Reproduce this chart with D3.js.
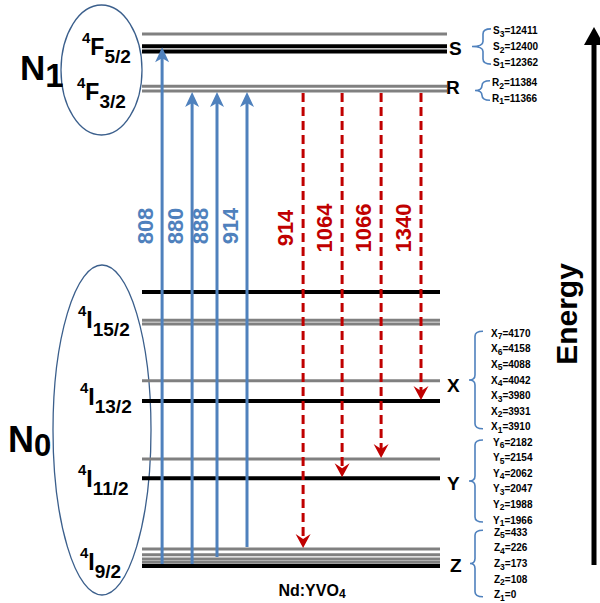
<!DOCTYPE html>
<html>
<head>
<meta charset="utf-8">
<script src="https://cdn.jsdelivr.net/npm/d3@7"></script>
<style>
  html, body { margin: 0; padding: 0; background: #fff; }
  svg { display: block; font-family: "Liberation Sans", Arial, sans-serif; }
</style>
</head>
<body>
<svg id="chart" width="600" height="603"></svg>
<script>
// ---------------- DATA ----------------
// drawn sub-level lines (schematic height, 0 = ground line, 100 = top line)
const lineIds     = ["Z1","Z2","Z3","Z4","Z5","Y1","Y6","X1","X7","W1","W2","W3","R1","R2","S1","S2","S3"];
const lineManifold= ["I9","I9","I9","I9","I9","I11","I11","I13","I13","I15","I15","I15","F3","F3","F5","F5","F5"];
const lineHeights = [0, 0.7, 1.3, 2.1, 3.2, 16.5, 20.1, 31.0, 34.8, 45.5, 46.2, 51.5, 89.3, 90.2, 96.7, 97.7, 100];
const lineKinds   = ["main","sub","sub","sub","sub","main","sub","main","sub","sub","sub","main","sub","sub","main","main","sub"];

// Stark sub-level energies (cm^-1)
const groupNames  = ["S","R","X","Y","Z"];
const sValues = [12362, 12400, 12411];
const rValues = [11366, 11384];
const xValues = [3910, 3931, 3980, 4042, 4088, 4158, 4170];
const yValues = [1966, 1988, 2047, 2062, 2154, 2182];
const zValues = [0, 108, 173, 226, 433];

// pump transitions (absorption, nm)
const pumpLabels = ["808","880","888","914"];
const pumpFrom   = ["Z1","Z1","Z3","Z5"];
const pumpTo     = ["S2","R1","R1","R1"];
const pumpSlot   = [0.67, 1.67, 2.5, 3.5];

// emission transitions (nm)
const emitLabels = ["914","1064","1066","1340"];
const emitFrom   = ["R1","R1","R1","R1"];
const emitTo     = ["Z5","Y1","Y6","X1"];
const emitSlot   = [5.37, 6.67, 7.97, 9.3];

// term symbols
const termSup  = ["4","4","4","4","4","4"];
const termMain = ["F","F","I","I","I","I"];
const termSub  = ["5/2","3/2","15/2","13/2","11/2","9/2"];

// ---------------- LAYOUT ----------------
const svg = d3.select("#chart");
const y = d3.scaleLinear().domain([0, 100]).range([566, 34]);
const x = d3.scaleLinear().domain([0, 10]).range([142, 442]);
const lineY = {};
lineIds.forEach((id, i) => lineY[id] = y(lineHeights[i]));

const BLUE = "#4f81bd", RED = "#c00000", GRAY = "#808080", OUTLINE = "#3b5f8c";

// ellipses
svg.append("ellipse").attr("cx", 101.5).attr("cy", 70).attr("rx", 40.5).attr("ry", 65)
  .attr("fill", "none").attr("stroke", OUTLINE).attr("stroke-width", 1.3);
svg.append("ellipse").attr("cx", 102).attr("cy", 430).attr("rx", 49).attr("ry", 165)
  .attr("fill", "none").attr("stroke", OUTLINE).attr("stroke-width", 1.3);

// level lines
const lines = lineIds.map((id, i) => ({id, m: lineManifold[i], kind: lineKinds[i], yy: lineY[id]}));
svg.append("g").selectAll("line").data(lines).join("line")
  .attr("x1", x(0))
  .attr("x2", d => (d.m === "F3" || d.m === "F5") ? 447 : 440)
  .attr("y1", d => d.yy).attr("y2", d => d.yy)
  .attr("stroke", d => d.kind === "main" ? "#000" : GRAY)
  .attr("stroke-width", d => d.kind === "main" ? 4 : 3);

// pump arrows
const pumps = pumpLabels.map((l, i) => ({l, x: x(pumpSlot[i]), y0: lineY[pumpFrom[i]] - 2, y1: lineY[pumpTo[i]] + 1}));
const pg = svg.append("g");
pg.selectAll("line").data(pumps).join("line")
  .attr("x1", d => d.x).attr("x2", d => d.x)
  .attr("y1", d => d.y0).attr("y2", d => d.y1 + 10)
  .attr("stroke", BLUE).attr("stroke-width", 3);
pg.selectAll("path").data(pumps).join("path")
  .attr("d", d => `M${d.x},${d.y1} L${d.x + 7},${d.y1 + 15} L${d.x},${d.y1 + 11} L${d.x - 7},${d.y1 + 15} Z`)
  .attr("fill", BLUE);
pg.selectAll("text").data(pumps).join("text")
  .attr("transform", d => `translate(${d.x - 17},226) rotate(-90)`)
  .attr("text-anchor", "middle").attr("dy", "0.36em")
  .attr("font-size", 22).attr("font-weight", "bold").attr("fill", BLUE)
  .text(d => d.l);

// emission arrows
const emits = emitLabels.map((l, i) => ({l, x: x(emitSlot[i]), y0: lineY[emitFrom[i]] + 2, y1: lineY[emitTo[i]] - 1}));
const eg = svg.append("g");
eg.selectAll("line").data(emits).join("line")
  .attr("x1", d => d.x).attr("x2", d => d.x)
  .attr("y1", d => d.y0).attr("y2", d => d.y1 - 9)
  .attr("stroke", RED).attr("stroke-width", 3).attr("stroke-dasharray", "9,5");
eg.selectAll("path").data(emits).join("path")
  .attr("d", d => `M${d.x},${d.y1} L${d.x + 7.5},${d.y1 - 14} L${d.x},${d.y1 - 9} L${d.x - 7.5},${d.y1 - 14} Z`)
  .attr("fill", RED);
eg.selectAll("text").data(emits).join("text")
  .attr("transform", d => `translate(${d.x - 18},228) rotate(-90)`)
  .attr("text-anchor", "middle").attr("dy", "0.36em")
  .attr("font-size", 22).attr("font-weight", "bold").attr("fill", RED)
  .text(d => d.l);

// group letters
const letterPos = {S: [449, 55], R: [446, 94], X: [447, 392], Y: [447, 490], Z: [450, 572]};
svg.append("g").selectAll("text").data(groupNames).join("text")
  .attr("x", d => letterPos[d][0]).attr("y", d => letterPos[d][1])
  .attr("font-size", 19).attr("font-weight", "bold").text(d => d);

// braces + sublevel labels
const groupValues = {S: sValues, R: rValues, X: xValues, Y: yValues, Z: zValues};
const braceLayout = {
  S: {c: 46.5, xv: 483, xt: 472, xl: 493},
  R: {c: 90.5, xv: 482, xt: 475, xl: 492},
  X: {c: 380,  xv: 475, xt: 469, xl: 491},
  Y: {c: 481,  xv: 475, xt: 469, xl: 493},
  Z: {c: 563.5,xv: 475, xt: 470, xl: 494}
};
const STEP = 15.6;
groupNames.forEach(g => {
  const L = braceLayout[g], vals = groupValues[g], n = vals.length;
  const half = (n - 1) / 2 * STEP;
  const top = L.c - half - 2, bot = L.c + half + 2, xv = L.xv, xt = L.xt, c = L.c;
  const p = d3.path();
  p.moveTo(xv + 8, top);
  p.quadraticCurveTo(xv, top, xv, top + 5);
  p.lineTo(xv, c - 5);
  p.quadraticCurveTo(xv, c, xt, c);
  p.quadraticCurveTo(xv, c, xv, c + 5);
  p.lineTo(xv, bot - 5);
  p.quadraticCurveTo(xv, bot, xv + 8, bot);
  svg.append("path").attr("d", p.toString()).attr("fill", "none")
    .attr("stroke", BLUE).attr("stroke-width", 1.6);
  const rows = vals.map((v, i) => ({name: g, idx: i + 1, v, yy: L.c + half - i * STEP}));
  const t = svg.append("g").selectAll("text").data(rows).join("text")
    .attr("x", L.xl).attr("y", d => d.yy + 3.5)
    .attr("font-size", 10).attr("font-weight", "bold");
  t.append("tspan").text(d => d.name);
  t.append("tspan").attr("font-size", 8.5).attr("dy", 2.5).text(d => d.idx);
  t.append("tspan").attr("dy", -2.5).text(d => "=" + d.v);
});

// term symbols
const termPos = [[82, 55], [77, 100], [78, 328], [80, 405], [78, 487], [80, 570]];
termMain.forEach((m, i) => {
  const t = svg.append("text").attr("x", termPos[i][0]).attr("y", termPos[i][1]).attr("font-weight", "bold");
  t.append("tspan").attr("font-size", 15).attr("dy", -12).text(termSup[i]);
  t.append("tspan").attr("font-size", 23).attr("dy", 12).text(m);
  t.append("tspan").attr("font-size", 19).attr("dy", 8).text(termSub[i]);
});

// N1 / N0
const n1 = svg.append("text").attr("x", 20).attr("y", 80).attr("font-weight", "bold").attr("font-size", 35);
n1.append("tspan").text("N");
n1.append("tspan").attr("font-size", 33).attr("dy", 7).text("1");
const n0 = svg.append("text").attr("x", 8).attr("y", 452).attr("font-weight", "bold").attr("font-size", 36);
n0.append("tspan").text("N");
n0.append("tspan").attr("font-size", 31).attr("dy", 4).text("0");

// crystal label
const nd = svg.append("text").attr("x", 312).attr("y", 596).attr("text-anchor", "middle")
  .attr("font-weight", "bold").attr("font-size", 16);
nd.append("tspan").text("Nd:YVO");
nd.append("tspan").attr("font-size", 12).attr("dy", 2).text("4");

// energy axis arrow
svg.append("line").attr("x1", 594).attr("x2", 594).attr("y1", 565).attr("y2", 42)
  .attr("stroke", "#000").attr("stroke-width", 5);
svg.append("path").attr("d", "M594,27 L604,45 L584,45 Z").attr("fill", "#000");
svg.append("text").attr("transform", "translate(577,314) rotate(-90)")
  .attr("text-anchor", "middle").attr("font-size", 30).attr("font-weight", "bold").text("Energy");
</script>
</body>
</html>
